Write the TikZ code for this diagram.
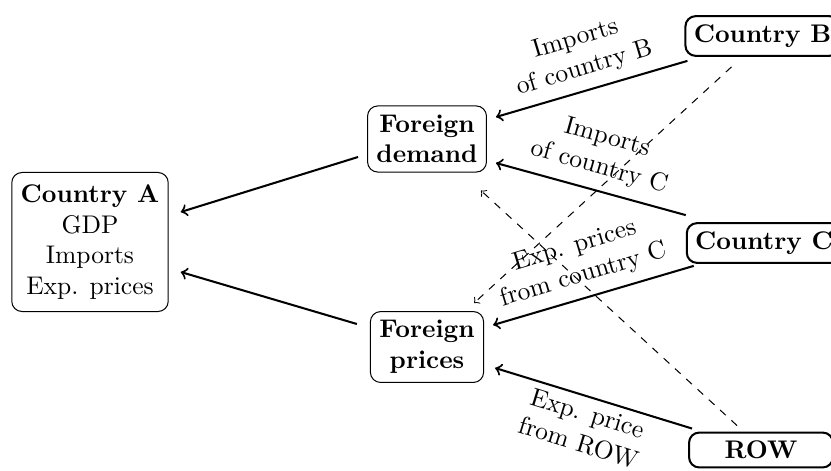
\documentclass[tikz,border=0pt]{standalone}
\usetikzlibrary{calc}
\begin{document}
\begin{tikzpicture}[x=0.392pt,y=-0.392pt,
  box/.style={draw, rounded corners=4pt, align=center, inner sep=3.5pt},
  ext/.style={draw, thick, rounded corners=4pt, align=center, font=\bfseries, minimum width=56.4pt, inner sep=3.3pt},
  flow/.style={->, thick},
  link/.style={->, dashed, thin},
  lab/.style={align=center}]
\useasboundingbox (0,0) rectangle (831,470);

\node[box, minimum height=54.5pt] (ca) at (90,242) {\textbf{Country A}\\GDP\\Imports\\Exp. prices};
\node[box, font=\bfseries] (fd) at (427,139) {Foreign\\demand};
\node[box, font=\bfseries] (fp) at (427,347) {Foreign\\prices};
\node[ext] (cb) at (762.5,36) {Country B};
\node[ext] (cc) at (764,243) {Country C};
\node[ext] (row) at (761,450) {ROW};

\draw[flow] ($(fd.west)+(-9,18)$) -- ($(ca.east)+(12,-30)$);
\draw[flow] ($(fp.west)+(-13,-23)$) -- ($(ca.east)+(12,30)$);
\draw[flow] ($(cb.south west)+(3,4)$) -- ($(fd.east)+(9,-22)$);
\draw[flow] ($(cc.north west)+(0,-7)$) -- ($(fd.east)+(9,24)$);
\draw[flow] ($(cc.south west)+(8,2)$) -- ($(fp.east)+(9,-22)$);
\draw[flow] ($(row.north west)+(4,-3)$) -- ($(fp.east)+(11,21)$);
\draw[link] ($(cb.south)+(-31,10)$) -- ($(fp.north east)+(-10,-8)$);
\draw[link] ($(row.north)+(-24,-6)$) -- ($(fd.south east)+(-6,18)$);

\node[lab, rotate=16.7] (l1) at (580,54) {Imports\\of country B};
\node[lab, rotate=-15.7] (l2) at (603,153) {Imports\\of country C};
\node[lab, rotate=16.7] (l3) at (579,261) {Exp. prices\\from country C};
\node[lab, rotate=-17.1] (l4) at (583,428) {Exp. price\\from ROW};
\end{tikzpicture}
\end{document}
